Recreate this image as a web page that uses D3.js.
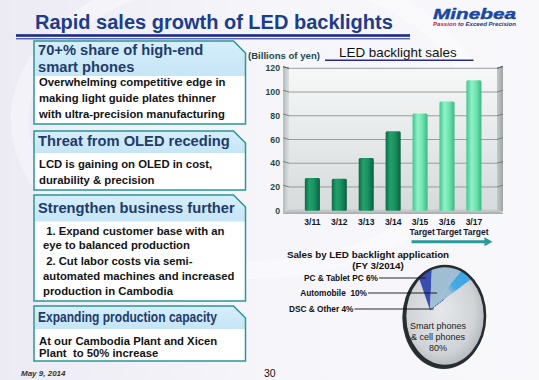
<!DOCTYPE html>
<html>
<head>
<meta charset="utf-8">
<script src="https://cdn.jsdelivr.net/npm/d3@7"></script>
<style>
html, body { margin: 0; padding: 0; background: #f5f4f9; }
svg { display: block; font-family: "Liberation Sans", Arial, sans-serif; }
</style>
</head>
<body>
<svg id="slide" width="539" height="380"></svg>
<script>
// ---- data ----
const years = ["3/11", "3/12", "3/13", "3/14", "3/15", "3/16", "3/17"];
const sales = [27.5, 27, 44.5, 67, 82, 92, 110];          // billions of yen
const isTarget = [false, false, false, false, true, true, true];
const yTicks = [0, 20, 40, 60, 80, 100, 120];

const pieNames = ["PC & Tablet PC 6%", "Automobile  10%", "DSC & Other 4%", "Smart phones"];
const pieShares = [6, 10, 4, 80];
const pieColors = ["#3a4db2", "#9fbdd3", "url(#dscGrad)", "url(#pieGrey)"];

const boxHeads = [
    ["70+% share of high-end", "smart phones"],
    ["Threat from OLED receding"],
    ["Strengthen business further"],
    ["Expanding production capacity"]
];
const boxBodies = [
    ["Overwhelming competitive edge in", "making light guide plates thinner", "with ultra-precision manufacturing"],
    ["LCD is gaining on OLED in cost,", "durability & precision"],
    [" 1. Expand customer base with an", "eye to balanced production", " 2. Cut labor costs via semi-", "automated machines and increased", "production in Cambodia"],
    ["At our Cambodia Plant and Xicen", "Plant  to 50% increase"]
];

const svg = d3.select("#slide");
const defs = svg.append("defs");

function linGrad(id, stops, horizontal) {
    const g = defs.append("linearGradient").attr("id", id)
        .attr("x1", 0).attr("y1", 0)
        .attr("x2", horizontal ? 1 : 0).attr("y2", horizontal ? 0 : 1);
    stops.forEach(s => g.append("stop").attr("offset", s[0]).attr("stop-color", s[1]));
}
linGrad("bg", [[0, "#ecebf4"], [0.5, "#f6f5fa"], [1, "#f8f8fb"]], true);
linGrad("head", [[0, "#d6eefa"], [1, "#c6e5f6"]], false);
linGrad("wall", [[0, "#f6f8f8"], [1, "#d6dada"]], false);
linGrad("sideL", [[0, "#b4baba"], [1, "#dce0e0"]], true);
linGrad("sideR", [[0, "#c4c8c8"], [1, "#9ea4a4"]], true);
linGrad("floor", [[0, "#cfd3d3"], [1, "#aeb3b3"]], false);
linGrad("barActual", [[0, "#0d6a45"], [0.3, "#22a06b"], [0.6, "#1a9263"], [1, "#0b6040"]], true);
linGrad("barTarget", [[0, "#44c58c"], [0.35, "#8ef2c8"], [0.65, "#6ee3b0"], [1, "#3cb983"]], true);
const rg = defs.append("radialGradient").attr("id", "pieGrey")
    .attr("cx", 0.45).attr("cy", 0.45).attr("r", 0.6);
rg.append("stop").attr("offset", 0).attr("stop-color", "#e6e8ea");
rg.append("stop").attr("offset", 0.7).attr("stop-color", "#d0d4d7");
rg.append("stop").attr("offset", 1).attr("stop-color", "#aeb3b7");

// ---- pie geometry (used by a gradient below) ----
const pc = { cx: 445, cy: 316, rx: 40, ry: 50 };      // outline ellipse
const apex = { x: 430, y: 310 };                       // where the slices meet
const startDeg = -19;

const dg = defs.append("radialGradient").attr("id", "dscGrad")
    .attr("gradientUnits", "userSpaceOnUse")
    .attr("cx", apex.x).attr("cy", apex.y).attr("r", 48);
dg.append("stop").attr("offset", 0).attr("stop-color", "#9fbdd3");
dg.append("stop").attr("offset", 0.55).attr("stop-color", "#9fbdd3");
dg.append("stop").attr("offset", 0.7).attr("stop-color", "#42a9e4");
dg.append("stop").attr("offset", 1).attr("stop-color", "#3ea6e2");

// background
svg.append("rect").attr("width", 539).attr("height", 380).attr("fill", "url(#bg)");
svg.append("ellipse").attr("cx", 250).attr("cy", 120).attr("rx", 230).attr("ry", 150)
    .attr("fill", "none").attr("stroke", "#ffffff").attr("stroke-width", 18).attr("opacity", 0.35);

// ---- title ----
svg.append("text").attr("x", 35).attr("y", 28.5)
    .attr("font-size", 20).attr("font-weight", "bold").attr("fill", "#1c3c8c")
    .text("Rapid sales growth of LED backlights");
svg.append("rect").attr("x", 16).attr("y", 34.2).attr("width", 394).attr("height", 2.6).attr("fill", "#1b2a8c");
svg.append("rect").attr("x", 16).attr("y", 38.3).attr("width", 394).attr("height", 1).attr("fill", "#1b2a8c");

svg.append("text").attr("x", 433).attr("y", 18.5)
    .attr("font-size", 15).attr("font-weight", "bold").attr("font-style", "italic")
    .attr("fill", "#1848a2").attr("stroke", "#1848a2").attr("stroke-width", 0.4)
    .attr("textLength", 83).attr("lengthAdjust", "spacingAndGlyphs")
    .text("Minebea");
const tag = svg.append("text").attr("x", 433).attr("y", 25.5)
    .attr("font-size", 6).attr("font-weight", "bold").attr("font-style", "italic")
    .attr("textLength", 83).attr("lengthAdjust", "spacingAndGlyphs");
tag.append("tspan").attr("fill", "#d0202c").text("Passion");
tag.append("tspan").attr("fill", "#1a3a8a").text(" to Exceed Precision");

// ---- left text boxes ----
const boxLayout = [
    { top: 41, headBottom: 76, bottom: 124, head: [55, 72.3], body: [86.3, 102, 117.7], bx: 39 },
    { top: 131, headBottom: 153, bottom: 190, head: [146], body: [168, 184], bx: 39 },
    { top: 195, headBottom: 221.5, bottom: 301, head: [212.5], body: [234.7, 249.2, 264.7, 280, 295], bx: 43 },
    { top: 306, headBottom: 329, bottom: 361, head: [322], body: [344.7, 357.3], bx: 39 }
];
const bxL = 34, bxR = 245.5, fold = 12;

boxLayout.forEach((b, i) => {
    const shape = `M${bxL},${b.top}H${bxR - fold}L${bxR},${b.top + fold}V${b.bottom}H${bxL}Z`;
    const g = svg.append("g");
    g.append("path").attr("d", shape).attr("fill", "#ffffff");
    defs.append("clipPath").attr("id", "clip" + i).append("path").attr("d", shape);
    g.append("rect").attr("x", bxL).attr("y", b.top).attr("width", bxR - bxL)
        .attr("height", b.headBottom - b.top).attr("fill", "url(#head)")
        .attr("clip-path", `url(#clip${i})`);
    g.append("path").attr("d", shape).attr("fill", "none")
        .attr("stroke", "#2b9797").attr("stroke-width", 1.5);

    boxHeads[i].forEach((line, k) => {
        const t = g.append("text").attr("x", 38).attr("y", b.head[k])
            .attr("font-size", 14.7).attr("font-weight", "bold").attr("fill", "#213c6a")
            .text(line);
        if (i === 3) t.attr("textLength", 179).attr("lengthAdjust", "spacingAndGlyphs");
    });
    boxBodies[i].forEach((line, k) => {
        g.append("text").attr("x", b.bx).attr("y", b.body[k])
            .attr("font-size", 11.3).attr("font-weight", "bold").attr("fill", "#141414")
            .style("white-space", "pre")
            .text(line);
    });
});

// ---- bar chart ----
const y = d3.scaleLinear().domain([0, 120]).range([210.7, 68.3]);
const x = d3.scaleBand().domain(years).range([293, 493.3]).padding(0.44);
const wallL = 289, wallR = 497, depth = 6;

const chart = svg.append("g");
// back wall, side walls, floor
chart.append("rect").attr("x", wallL).attr("y", y(120)).attr("width", wallR - wallL)
    .attr("height", y(0) - y(120)).attr("fill", "url(#wall)");
chart.append("path")
    .attr("d", `M${wallL - depth},${y(120) - 1.5}L${wallL},${y(120)}V${y(0)}L${wallL - depth},${y(0) + 2.5}Z`)
    .attr("fill", "url(#sideL)");
chart.append("path")
    .attr("d", `M${wallR},${y(120)}L${wallR + depth},${y(120) - 2}V${y(0) + 1}L${wallR},${y(0)}Z`)
    .attr("fill", "url(#sideR)");
chart.append("path")
    .attr("d", `M${wallL - depth},${y(0) + 2.5}L${wallL},${y(0) - 1.5}H${wallR}L${wallR + depth},${y(0) + 2.5}Z`)
    .attr("fill", "url(#floor)");
chart.append("line").attr("x1", wallL - depth).attr("x2", wallR + depth)
    .attr("y1", y(0) + 2.8).attr("y2", y(0) + 2.8).attr("stroke", "#9aa0a0").attr("stroke-width", 0.8);

// gridlines on back wall + slanted wall ticks
yTicks.filter(v => v > 0).forEach(v => {
    chart.append("line").attr("x1", wallL).attr("x2", wallR)
        .attr("y1", y(v)).attr("y2", y(v)).attr("stroke", "#8e9494").attr("stroke-width", 0.9);
    chart.append("line").attr("x1", wallL - depth).attr("x2", wallL)
        .attr("y1", y(v) - 1.8).attr("y2", y(v)).attr("stroke", "#6f7676").attr("stroke-width", 0.9);
    chart.append("line").attr("x1", wallR).attr("x2", wallR + depth)
        .attr("y1", y(v)).attr("y2", y(v) - 1.8).attr("stroke", "#6f7676").attr("stroke-width", 0.9);
});
chart.append("line").attr("x1", wallL - depth).attr("x2", wallL).attr("y1", y(120) - 1.5).attr("y2", y(120))
    .attr("stroke", "#555b5b").attr("stroke-width", 1);
chart.append("line").attr("x1", wallR).attr("x2", wallR + depth).attr("y1", y(120)).attr("y2", y(120) - 2)
    .attr("stroke", "#555b5b").attr("stroke-width", 1);

// bars
chart.selectAll(".bar").data(years).enter().append("rect")
    .attr("class", "bar")
    .attr("x", d => x(d))
    .attr("y", (d, i) => y(sales[i]))
    .attr("width", x.bandwidth())
    .attr("height", (d, i) => y(0) - y(sales[i]))
    .attr("rx", 1.5)
    .attr("fill", (d, i) => isTarget[i] ? "url(#barTarget)" : "url(#barActual)");

// y axis labels
chart.selectAll(".ylab").data(yTicks).enter().append("text")
    .attr("x", 280).attr("y", d => y(d) + 3)
    .attr("text-anchor", "end").attr("font-size", 8.7).attr("font-weight", "bold")
    .attr("fill", "#1f4a3e").text(d => d);

// x axis labels
chart.selectAll(".xlab").data(years).enter().append("text")
    .attr("x", d => x(d) + x.bandwidth() / 2).attr("y", 224.5)
    .attr("text-anchor", "middle").attr("font-size", 8.5).attr("font-weight", "bold")
    .attr("fill", "#15152a").text(d => d);
chart.selectAll(".tlab").data(years.filter((d, i) => isTarget[i])).enter().append("text")
    .attr("x", d => x(d) + x.bandwidth() / 2 + 2).attr("y", 234.5)
    .attr("text-anchor", "middle").attr("font-size", 8.5).attr("font-weight", "bold")
    .attr("fill", "#15152a").text("Target");

// target arrow
const arrowY = 241.7;
const ax0 = x("3/15") - 1, ax1 = x("3/17") + x.bandwidth() + 11;
chart.append("line").attr("x1", ax0).attr("x2", ax1 - 7).attr("y1", arrowY).attr("y2", arrowY)
    .attr("stroke", "#2a9a9a").attr("stroke-width", 3);
chart.append("path")
    .attr("d", `M${ax1 - 8},${arrowY - 4.5}L${ax1},${arrowY}L${ax1 - 8},${arrowY + 4.5}Z`)
    .attr("fill", "#2a9a9a");

// chart titles
chart.append("text").attr("x", 248).attr("y", 59)
    .attr("font-size", 9.6).attr("font-weight", "bold").attr("fill", "#1f4a50")
    .text("(Billions of yen)");
chart.append("text").attr("x", 339).attr("y", 57)
    .attr("font-size", 13.4).attr("fill", "#111").text("LED backlight sales");
chart.append("line").attr("x1", 325).attr("x2", 473.5).attr("y1", 60.3).attr("y2", 60.3)
    .attr("stroke", "#2a2a8a").attr("stroke-width", 1.4);

// ---- pie chart ----
function rim(deg) {
    const a = deg * Math.PI / 180;
    const dx = Math.sin(a), dy = -Math.cos(a);
    const px = apex.x - pc.cx, py = apex.y - pc.cy;
    const A = (dx * dx) / (pc.rx * pc.rx) + (dy * dy) / (pc.ry * pc.ry);
    const B = 2 * ((px * dx) / (pc.rx * pc.rx) + (py * dy) / (pc.ry * pc.ry));
    const C = (px * px) / (pc.rx * pc.rx) + (py * py) / (pc.ry * pc.ry) - 1;
    const t = (-B + Math.sqrt(B * B - 4 * A * C)) / (2 * A);
    return [apex.x + t * dx, apex.y + t * dy];
}

const arcs = d3.pie().sort(null)
    .startAngle(startDeg * Math.PI / 180)
    .endAngle((startDeg + 360) * Math.PI / 180)(pieShares);

const pieG = svg.append("g");
pieG.append("ellipse").attr("cx", pc.cx - 1.2).attr("cy", pc.cy + 1.5)
    .attr("rx", pc.rx + 1.5).attr("ry", pc.ry + 1.5).attr("fill", "#2a3034");
pieG.append("ellipse").attr("cx", pc.cx).attr("cy", pc.cy)
    .attr("rx", pc.rx).attr("ry", pc.ry).attr("fill", "url(#pieGrey)");

const lineGen = d3.line();
arcs.forEach((a, i) => {
    if (i === 3) return; // the big grey slice is the ellipse face itself
    const d0 = a.startAngle * 180 / Math.PI, d1 = a.endAngle * 180 / Math.PI;
    const pts = [[apex.x, apex.y]].concat(d3.range(d0, d1, 1).concat([d1]).map(rim));
    pieG.append("path").attr("d", lineGen(pts) + "Z").attr("fill", pieColors[i]);
});
// thin dark edge where the small slices end
const edgeEnd = rim(arcs[2].endAngle * 180 / Math.PI);
pieG.append("line").attr("x1", apex.x).attr("y1", apex.y)
    .attr("x2", apex.x + 0.35 * (edgeEnd[0] - apex.x)).attr("y2", apex.y + 0.35 * (edgeEnd[1] - apex.y))
    .attr("stroke", "#2a4a9a").attr("stroke-width", 0.9).attr("stroke-dasharray", "2,1");
pieG.append("ellipse").attr("cx", pc.cx).attr("cy", pc.cy)
    .attr("rx", pc.rx).attr("ry", pc.ry).attr("fill", "none")
    .attr("stroke", "#262c30").attr("stroke-width", 2.6);

// pie labels with leader lines
const labelLayout = [
    { x: 378, y: 278, depth: 0.78 },
    { x: 367, y: 293, depth: 0.43 },
    { x: 353.5, y: 309, depth: 0.1 }
];
labelLayout.forEach((l, i) => {
    const mid = (arcs[i].startAngle + arcs[i].endAngle) / 2 * 180 / Math.PI;
    const r = rim(mid);
    const ex = apex.x + l.depth * (r[0] - apex.x);
    svg.append("line").attr("x1", l.x + 1).attr("y1", l.y).attr("x2", ex).attr("y2", l.y)
        .attr("stroke", "#111").attr("stroke-width", 0.9);
    svg.append("text").attr("x", l.x).attr("y", l.y + 3)
        .attr("text-anchor", "end").attr("font-size", 8.3).attr("font-weight", "bold")
        .attr("fill", "#111").style("white-space", "pre").text(pieNames[i]);
});

const big = svg.append("text").attr("text-anchor", "middle").attr("font-size", 9)
    .attr("fill", "#222");
["Smart phones", "& cell phones", pieShares[3] + "%"].forEach((t, k) => {
    big.append("tspan").attr("x", 438).attr("y", 328.5 + k * 11).text(t);
});

svg.append("text").attr("x", 368).attr("y", 257.5).attr("text-anchor", "middle")
    .attr("font-size", 9.8).attr("font-weight", "bold").attr("fill", "#111")
    .text("Sales by LED backlight application");
svg.append("text").attr("x", 378).attr("y", 269).attr("text-anchor", "middle")
    .attr("font-size", 9.8).attr("font-weight", "bold").attr("fill", "#111")
    .text("(FY 3/2014)");

// ---- footer ----
svg.append("text").attr("x", 21).attr("y", 376)
    .attr("font-size", 8).attr("font-weight", "bold").attr("font-style", "italic")
    .attr("fill", "#333").text("May 9, 2014");
svg.append("text").attr("x", 264).attr("y", 377)
    .attr("font-size", 10.5).attr("fill", "#111").text("30");
</script>
</body>
</html>
